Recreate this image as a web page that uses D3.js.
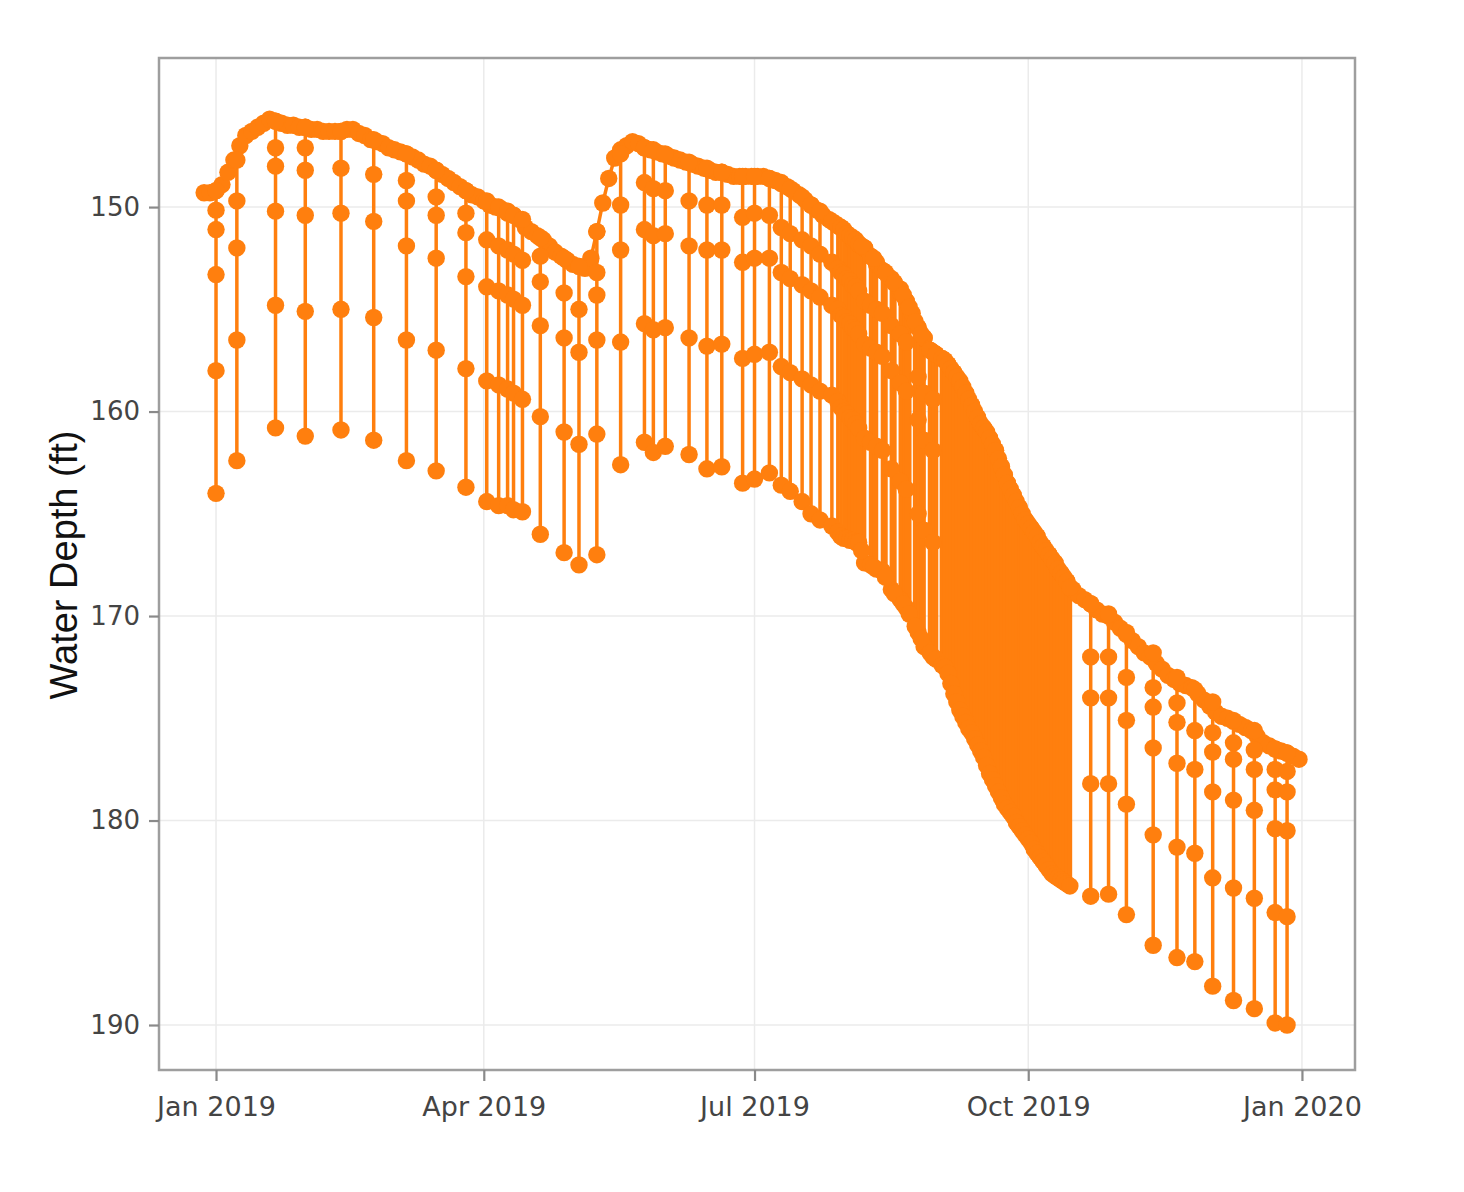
<!DOCTYPE html>
<html>
<head>
<meta charset="utf-8">
<script src="https://cdn.jsdelivr.net/npm/d3@7/dist/d3.min.js"></script>
<style>
  html, body { margin: 0; padding: 0; background: #fff; }
  svg { display: block; }
</style>
</head>
<body>
<svg id="chart" width="1464" height="1192"></svg>
<script>
// ---------------- DATA ----------------
const yTickValues = [150, 160, 170, 180, 190];
const xTickDates = ["2019-01-01", "2019-04-01", "2019-07-01", "2019-10-01", "2020-01-01"];
const xTickLabels = ["Jan 2019", "Apr 2019", "Jul 2019", "Oct 2019", "Jan 2020"];

// static (non-pumping) water level, one reading every 2 days from 2018-12-28
const baseStart = "2018-12-28";
const baseStepDays = 2;
const baseDepths = [
  149.3,149.3,149.2,148.9,148.3,147.7,147.0,146.5,146.3,146.1,
  145.9,145.7,145.8,145.9,146.0,146.0,146.1,146.1,146.2,146.2,
  146.3,146.3,146.3,146.3,146.2,146.2,146.4,146.5,146.7,146.8,
  146.9,147.1,147.2,147.3,147.4,147.55,147.7,147.9,148.0,148.2,
  148.4,148.6,148.8,149.0,149.2,149.4,149.5,149.7,149.9,150.0,
  150.1,150.3,150.4,150.6,151.0,151.2,151.4,151.6,151.9,152.2,
  152.4,152.6,152.8,152.9,153.0,152.5,151.2,149.8,148.6,147.6,
  147.2,147.0,146.8,146.9,147.1,147.2,147.3,147.4,147.5,147.6,
  147.7,147.8,147.9,148.0,148.1,148.2,148.3,148.3,148.4,148.5,
  148.5,148.5,148.5,148.5,148.5,148.6,148.7,148.85,149.0,149.2,
  149.4,149.65,149.9,150.15,150.4,150.6,150.8,151.0,151.3,151.6,
  151.8,152.0,152.4,152.8,153.1,153.4,153.7,154.2,154.6,155.2,
  155.9,156.4,157.0,157.2,157.4,157.7,158.1,158.6,159.1,159.7,
  160.3,160.8,161.3,161.9,162.7,163.5,164.1,164.7,165.3,165.7,
  166.1,166.6,167.0,167.4,167.9,168.3,168.7,169.0,169.2,169.4,
  169.7,169.9,170.0,170.3,170.6,170.9,171.2,171.5,171.8,172.0,
  172.3,172.6,172.9,173.1,173.3,173.4,173.5,173.8,174.1,174.4,
  174.7,174.9,175.0,175.15,175.3,175.45,175.6,175.9,176.2,176.35,
  176.5,176.6,176.7,176.85,177.0
];

// pumping drawdown events: readings from the static level down to the deepest point
const spikeDates = [
  "2019-01-01","2019-01-08","2019-01-21","2019-01-31","2019-02-12","2019-02-23","2019-03-06","2019-03-16",
  "2019-03-26","2019-04-02","2019-04-06","2019-04-09","2019-04-11","2019-04-14","2019-04-20","2019-04-28",
  "2019-05-03","2019-05-09","2019-05-17","2019-05-25","2019-05-28","2019-06-01","2019-06-09","2019-06-15",
  "2019-06-20","2019-06-27","2019-07-01","2019-07-06","2019-07-10","2019-07-13","2019-07-17","2019-07-20",
  "2019-07-23","2019-07-27","2019-07-29","2019-07-30","2019-07-31","2019-08-01","2019-08-02","2019-08-03",
  "2019-08-04","2019-08-05","2019-08-07","2019-08-09","2019-08-11","2019-08-13","2019-08-16","2019-08-19",
  "2019-08-21","2019-08-25","2019-08-27","2019-08-30",
  "2019-10-22","2019-10-28","2019-11-03","2019-11-12","2019-11-20","2019-11-26","2019-12-02","2019-12-09",
  "2019-12-16","2019-12-23","2019-12-27"
];
const spikeDepths = [
  [149.2,150.15,151.1,153.3,158.0,164.0],
  [147.7,149.7,152.0,156.5,162.4],
  [145.8,147.1,148.0,150.2,154.8,160.8],
  [146.1,147.1,148.2,150.4,155.1,161.2],
  [146.3,148.1,150.3,155.0,160.9],
  [146.7,148.4,150.7,155.4,161.4],
  [147.4,148.7,149.7,151.9,156.5,162.4],
  [148.2,149.5,150.4,152.5,157.0,162.9],
  [149.2,150.3,151.25,153.4,157.9,163.7],
  [149.7,151.6,153.9,158.5,164.4],
  [150.0,151.9,154.1,158.7,164.6],
  [150.2,152.1,154.3,158.9,164.6],
  [150.4,152.3,154.5,159.1,164.8],
  [150.6,152.6,154.8,159.4,164.9],
  [151.5,152.4,153.65,155.8,160.25,166.0],
  [152.5,154.2,156.4,161.0,166.9],
  [152.9,155.0,157.1,161.6,167.5],
  [151.2,153.2,154.3,156.5,161.1,167.0],
  [147.4,149.9,152.1,156.6,162.6],
  [147.1,148.8,151.1,155.7,161.5],
  [147.2,149.1,151.4,156.0,162.0],
  [147.4,149.2,151.3,155.9,161.7],
  [147.8,149.7,151.9,156.4,162.1],
  [148.1,149.9,152.1,156.8,162.8],
  [148.3,149.9,152.1,156.7,162.7],
  [148.5,150.5,152.7,157.4,163.5],
  [148.5,150.3,152.5,157.2,163.3],
  [148.6,150.4,152.5,157.1,163.0],
  [148.8,151.0,153.2,157.8,163.6],
  [149.1,151.3,153.5,158.1,163.9],
  [149.5,151.6,153.8,158.4,164.4],
  [149.9,151.9,154.1,158.7,165.0],
  [150.2,152.3,154.4,159.0,165.3],
  [150.7,152.7,154.8,159.2,165.6],
  [150.9,153.0,155.0,159.5,165.9],
  [151.0,153.2,155.3,159.8,166.1],
  [151.1,153.3,155.4,160.0,166.2],
  [151.3,153.5,155.6,160.1,166.2],
  [151.4,153.6,155.7,160.3,166.3],
  [151.5,153.8,155.9,160.4,166.3],
  [151.6,153.9,156.0,160.6,166.4],
  [151.8,154.1,156.2,160.8,166.4],
  [152.0,154.6,156.7,161.3,167.4],
  [152.4,154.8,156.9,161.5,167.5],
  [152.7,155.0,157.1,161.7,167.7],
  [153.1,155.2,157.3,161.9,167.8],
  [153.5,155.8,158.0,162.8,168.7],
  [154.0,156.2,158.6,163.4,169.2],
  [154.6,156.6,159.0,163.8,169.6],
  [155.9,158.3,160.4,165.0,170.8],
  [156.4,159.1,161.4,165.8,171.5],
  [157.1,159.4,161.9,166.4,172.0],
  [169.4,172.0,174.0,178.2,183.7],
  [169.9,172.0,174.0,178.2,183.6],
  [170.8,173.0,175.1,179.2,184.6],
  [171.8,173.5,174.45,176.45,180.7,186.1],
  [173.0,174.25,175.2,177.2,181.3,186.7],
  [173.6,175.6,177.5,181.6,186.9],
  [174.2,175.7,176.65,178.6,182.8,188.1],
  [175.1,176.2,177.0,179.0,183.3,188.8],
  [175.6,176.55,177.5,179.5,183.8,189.2],
  [176.5,177.5,178.5,180.4,184.5,189.9],
  [176.7,177.6,178.6,180.5,184.7,190.0]
];

// other daily drawdowns (static level and deepest reading only)
const dailyDates = [
  "2019-08-06","2019-08-10","2019-08-14","2019-08-17","2019-08-20","2019-08-22","2019-08-24",
  "2019-08-26","2019-08-29","2019-08-31","2019-09-02",
  "2019-09-03","2019-09-04","2019-09-05","2019-09-06","2019-09-07","2019-09-08","2019-09-09","2019-09-10",
  "2019-09-11","2019-09-12","2019-09-13","2019-09-14","2019-09-15","2019-09-16","2019-09-17","2019-09-18",
  "2019-09-19","2019-09-20","2019-09-21","2019-09-22","2019-09-23","2019-09-24","2019-09-25","2019-09-26",
  "2019-09-27","2019-09-28","2019-09-29","2019-09-30","2019-10-01","2019-10-02","2019-10-03","2019-10-04",
  "2019-10-05","2019-10-06","2019-10-07","2019-10-08","2019-10-09","2019-10-10","2019-10-11","2019-10-12",
  "2019-10-13","2019-10-14","2019-10-15"
];
const dailyTop = [
  151.9,152.5,153.2,153.7,154.3,154.9,155.6,
  156.2,157.0,157.2,157.4,
  157.5,157.7,157.9,158.1,158.3,158.5,158.8,159.1,
  159.4,159.7,160.0,160.3,160.6,160.8,161.0,161.3,
  161.6,161.9,162.3,162.7,163.1,163.5,163.8,164.1,
  164.4,164.7,165.0,165.3,165.5,165.7,165.9,166.1,
  166.4,166.6,166.8,167.0,167.2,167.4,167.7,167.9,
  168.1,168.3,168.6
];
const dailyBottom = [
  166.8,167.6,168.1,168.9,169.4,169.9,170.5,
  171.1,171.8,172.1,172.4,
  172.5,172.8,173.3,173.8,174.2,174.6,174.9,175.2,
  175.5,175.7,176.0,176.3,176.6,176.9,177.3,177.7,
  178.0,178.3,178.6,178.9,179.2,179.4,179.6,179.8,
  180.1,180.3,180.5,180.7,180.9,181.1,181.4,181.6,
  181.8,182.0,182.2,182.4,182.6,182.7,182.8,182.9,
  183.0,183.1,183.2
];

// ---------------- CHART ----------------
const plot = { left: 159, right: 1355, top: 58, bottom: 1070 };
const COLOR = "#ff7f0e";
const R = 8.7, LW = 3.5, LW_DAILY = 4.6;
const parse = d3.utcParse("%Y-%m-%d");

const x = d3.scaleUtc()
  .domain([Date.UTC(2018, 11, 12, 20), Date.UTC(2020, 0, 18, 20)])
  .range([plot.left, plot.right]);
const y = d3.scaleLinear()
  .domain([142.71, 192.2])
  .range([plot.top, plot.bottom]);

const svg = d3.select("#chart");

// grid
const grid = svg.append("g");
grid.selectAll("line.gy").data(yTickValues).join("line")
  .attr("x1", plot.left).attr("x2", plot.right)
  .attr("y1", d => y(d)).attr("y2", d => y(d))
  .attr("stroke", "#ebebeb").attr("stroke-width", 1.5);
grid.selectAll("line.gx").data(xTickDates).join("line")
  .attr("x1", d => x(parse(d))).attr("x2", d => x(parse(d)))
  .attr("y1", plot.top).attr("y2", plot.bottom)
  .attr("stroke", "#ebebeb").attr("stroke-width", 1.5);

// data
const line = d3.line().x(d => x(d.date)).y(d => y(d.depth));
const start = parse(baseStart);
const base = baseDepths.map((v, i) => ({ date: d3.utcDay.offset(start, i * baseStepDays), depth: v }));
const spikes = spikeDates.map((d, i) => spikeDepths[i].map(v => ({ date: parse(d), depth: v })));
const daily = dailyDates.map((d, i) => [
  { date: parse(d), depth: dailyTop[i] },
  { date: parse(d), depth: dailyBottom[i] }
]);

const g = svg.append("g");
g.append("path").datum(base).attr("d", line)
  .attr("fill", "none").attr("stroke", COLOR).attr("stroke-width", LW).attr("stroke-linejoin", "round");
g.selectAll("path.daily").data(daily).join("path")
  .attr("class", "daily").attr("d", line)
  .attr("fill", "none").attr("stroke", COLOR).attr("stroke-width", LW_DAILY);
g.selectAll("path.spike").data(spikes).join("path")
  .attr("class", "spike").attr("d", line)
  .attr("fill", "none").attr("stroke", COLOR).attr("stroke-width", LW);

const allPts = base.concat(spikes.flat(), daily.flat());
g.selectAll("circle").data(allPts).join("circle")
  .attr("cx", d => x(d.date)).attr("cy", d => y(d.depth)).attr("r", R)
  .attr("fill", COLOR);

// frame
svg.append("rect")
  .attr("x", plot.left).attr("y", plot.top)
  .attr("width", plot.right - plot.left).attr("height", plot.bottom - plot.top)
  .attr("fill", "none").attr("stroke", "#9e9e9e").attr("stroke-width", 2.5);

// axes
const xAxis = d3.axisBottom(x)
  .tickValues(xTickDates.map(parse))
  .tickFormat((d, i) => xTickLabels[i])
  .tickSize(11).tickPadding(16);
const gx = svg.append("g").attr("transform", `translate(0,${plot.bottom})`).call(xAxis);
gx.select(".domain").remove();
gx.selectAll(".tick line").attr("stroke", "#8a8a8a").attr("stroke-width", 2.2);
gx.selectAll(".tick text").attr("fill", "#444").style("font-family", "DejaVu Sans")
  .style("font-size", "27px");

const yAxis = d3.axisLeft(y).tickValues(yTickValues).tickSize(10).tickPadding(9);
const gy = svg.append("g").attr("transform", `translate(${plot.left},0)`).call(yAxis);
gy.select(".domain").remove();
gy.selectAll(".tick line").attr("stroke", "#8a8a8a").attr("stroke-width", 2.2);
gy.selectAll(".tick text").attr("fill", "#444").style("font-family", "DejaVu Sans")
  .style("font-size", "26px");

// y title
svg.append("text")
  .attr("transform", "translate(77,565) rotate(-90)")
  .attr("text-anchor", "middle")
  .style("font-family", "Liberation Sans, Arial, sans-serif")
  .style("font-size", "38px")
  .attr("fill", "#111")
  .text("Water Depth (ft)");
</script>
</body>
</html>
